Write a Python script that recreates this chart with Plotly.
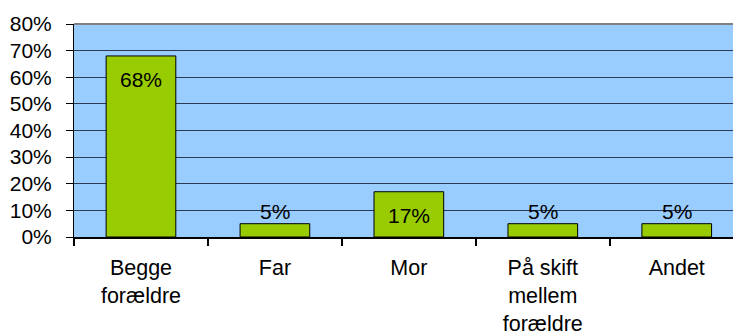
import plotly.graph_objects as go

categories = ["Begge<br>forældre", "Far", "Mor", "På skift<br>mellem<br>forældre", "Andet"]
values = [68, 5, 17, 5, 5]
y_ticks = [0, 10, 20, 30, 40, 50, 60, 70, 80]
y_tick_labels = [f"{v}%" for v in y_ticks]

FONT = "Liberation Sans, Arial, sans-serif"

fig = go.Figure()
fig.add_trace(go.Bar(
    x=categories,
    y=values,
    width=0.52,
    marker=dict(color="#99CC00", line=dict(color="#000000", width=1)),
    hoverinfo="skip",
))

# value labels: inside near the top for tall bars, above short bars
for cat, v in zip(categories, values):
    fig.add_annotation(
        x=cat, y=v, xref="x", yref="y",
        text=f"{v}%", showarrow=False,
        font=dict(family=FONT, size=21, color="#000000"),
        yshift=-24 if v >= 10 else 12,
    )

# grey frame line across the top of the plot area
fig.add_shape(type="line", xref="paper", yref="paper", x0=0, x1=1, y0=1, y1=1,
              line=dict(color="#808080", width=2))

fig.update_layout(
    width=733, height=336,
    margin=dict(l=74, r=0, t=24, b=99),
    paper_bgcolor="#FFFFFF",
    plot_bgcolor="#99CCFF",
    showlegend=False,
    font=dict(family=FONT, size=21, color="#000000"),
    xaxis=dict(
        type="category",
        range=[-0.5, 4.42],
        tickson="boundaries",
        ticks="outside", ticklen=7, tickwidth=2, tickcolor="#000000",
        showline=True, linecolor="#000000", linewidth=2,
        showgrid=False, zeroline=False,
        tickfont=dict(family=FONT, size=21.5, color="#000000"),
        ticklabelstandoff=10,
        automargin=False,
    ),
    yaxis=dict(
        range=[0, 80],
        tickmode="array",
        tickvals=y_ticks,
        ticktext=y_tick_labels,
        ticks="outside", ticklen=7, tickwidth=1, tickcolor="#000000",
        showline=True, linecolor="#000000", linewidth=1,
        showgrid=True, gridcolor="#2b3a55", gridwidth=1,
        zeroline=False,
        tickfont=dict(family=FONT, size=21, color="#000000"),
        ticklabelstandoff=10,
        automargin=False,
    ),
)

fig.write_html("out.html")
